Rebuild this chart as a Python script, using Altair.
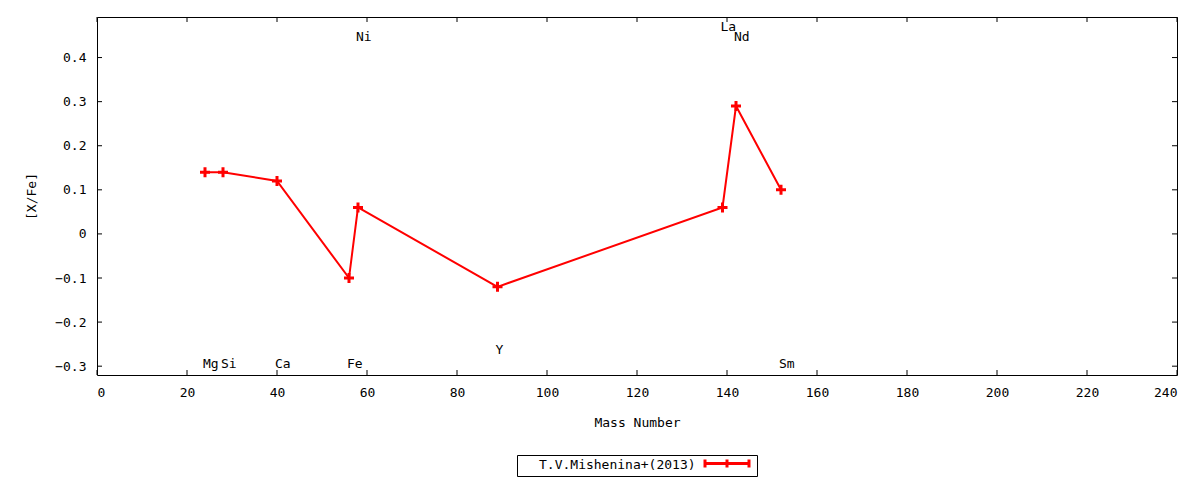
import altair as alt
import pandas as pd

# ---- data ----
elements = ["Mg", "Si", "Ca", "Fe", "Ni", "Y", "La", "Nd", "Sm"]
mass = [24, 28, 40, 56, 58, 89, 139, 142, 152]
xfe = [0.14, 0.14, 0.12, -0.10, 0.06, -0.12, 0.06, 0.29, 0.10]
label_y = [-0.295, -0.295, -0.295, -0.295, 0.446, -0.263, 0.469, 0.446, -0.295]
series_name = "T.V.Mishenina+(2013)"
series = [series_name] * len(elements)

x_ticks = [0, 20, 40, 60, 80, 100, 120, 140, 160, 180, 200, 220, 240]
y_ticks = [-0.3, -0.2, -0.1, 0, 0.1, 0.2, 0.3, 0.4]

W, H = 1080, 358
FONT = "DejaVu Sans Mono"
TICK = 5

df = pd.DataFrame({"el": elements, "mass": mass, "xfe": xfe, "ly": label_y, "series": series})
xt = pd.DataFrame({"t": x_ticks})
yt = pd.DataFrame({"t": y_ticks})

xscale = alt.Scale(domain=[0, 240], nice=False, zero=False)
yscale = alt.Scale(domain=[-0.32, 0.492], nice=False, zero=False)

xaxis = alt.Axis(values=x_ticks, title="Mass Number", ticks=False, domain=False, grid=False,
                 labelPadding=11, titlePadding=17, labelFont=FONT, labelFontSize=13,
                 titleFont=FONT, titleFontSize=13, titleFontWeight="normal",
                 labelColor="black", titleColor="black")
yaxis = alt.Axis(values=y_ticks, title="[X/Fe]", ticks=False, domain=False, grid=False,
                 labelPadding=11, titlePadding=16, labelFont=FONT, labelFontSize=13,
                 titleFont=FONT, titleFontSize=13, titleFontWeight="normal",
                 labelColor="black", titleColor="black",
                 labelExpr="datum.value == 0 ? '0' : format(datum.value, '.1f')")

# legend sample: a line with end and middle bars (path drawn larger than its nominal box)
legend_symbol = "M-8.75,0H13.25M-8.75,-2V2M13.25,-2V2M2.25,-2V2"

line = alt.Chart(df).mark_line(strokeWidth=2).encode(
    x=alt.X("mass:Q", scale=xscale, axis=xaxis),
    y=alt.Y("xfe:Q", scale=yscale, axis=yaxis),
    color=alt.Color("series:N", scale=alt.Scale(range=["#ff0000"]),
                    legend=alt.Legend(title="\u2800\u2800" + series_name, titleOrient="left",
                                      titleFont=FONT, titleFontSize=13, titleFontWeight="normal",
                                      titleColor="black", titlePadding=20, titleBaseline="middle",
                                      orient="none", legendX=420, legendY=438,
                                      symbolType=legend_symbol, symbolSize=16,
                                      symbolStrokeWidth=3, labelExpr="''", labelOffset=0,
                                      labelFontSize=13,
                                      strokeColor="black", fillColor="white", padding=2)),
)

points = alt.Chart(df).mark_point(shape="M-1,0H1M0,-1V1", size=100, strokeWidth=3,
                                  color="#ff0000", filled=False, opacity=1).encode(
    x=alt.X("mass:Q", scale=xscale),
    y=alt.Y("xfe:Q", scale=yscale),
)

labels = alt.Chart(df).mark_text(align="left", baseline="middle", dx=-2, font=FONT,
                                 fontSize=13, color="black").encode(
    x=alt.X("mass:Q", scale=xscale),
    y=alt.Y("ly:Q", scale=yscale),
    text="el:N",
)

xb = alt.Chart(xt).mark_rule(color="black", strokeWidth=1).encode(
    x=alt.X("t:Q", scale=xscale), y=alt.value(H), y2=alt.value(H - TICK))
xtp = alt.Chart(xt).mark_rule(color="black", strokeWidth=1).encode(
    x=alt.X("t:Q", scale=xscale), y=alt.value(0), y2=alt.value(TICK))
yl = alt.Chart(yt).mark_rule(color="black", strokeWidth=1).encode(
    y=alt.Y("t:Q", scale=yscale), x=alt.value(0), x2=alt.value(TICK))
yr = alt.Chart(yt).mark_rule(color="black", strokeWidth=1).encode(
    y=alt.Y("t:Q", scale=yscale), x=alt.value(W), x2=alt.value(W - TICK))

chart = alt.layer(xb, xtp, yl, yr, line, points, labels).properties(
    width=W, height=H,
    autosize=alt.AutoSizeParams(type="none"),
    padding={"left": 89, "top": 9, "right": 15, "bottom": 105},
    background="white",
).configure_view(stroke="black", strokeWidth=1)

chart.save("out.html", embed_options={"renderer": "svg", "actions": False})
